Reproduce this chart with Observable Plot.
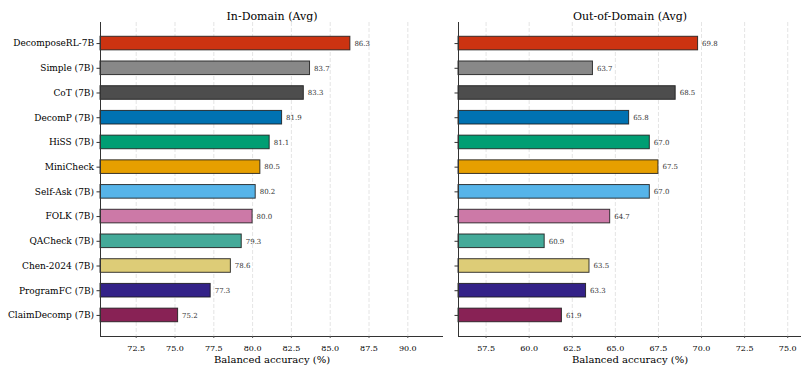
<!DOCTYPE html>
<html>
<head>
<meta charset="utf-8">
<script src="https://cdn.jsdelivr.net/npm/d3@7"></script>
<script src="https://cdn.jsdelivr.net/npm/@observablehq/plot@0.6"></script>
<style>
  html, body { margin: 0; padding: 0; background: #fff; }
  #chart { display: flex; flex-direction: row; width: 808px; height: 374px; }
  svg { display: block; }
</style>
</head>
<body>
<div id="chart"></div>
<script>
// Methods, top to bottom
const methods = [
  "DecomposeRL-7B", "Simple (7B)", "CoT (7B)", "DecomP (7B)", "HiSS (7B)", "MiniCheck",
  "Self-Ask (7B)", "FOLK (7B)", "QACheck (7B)", "Chen-2024 (7B)", "ProgramFC (7B)", "ClaimDecomp (7B)"
];
// Balanced accuracy (%)
const inDomain  = [86.3, 83.7, 83.3, 81.9, 81.1, 80.5, 80.2, 80.0, 79.3, 78.6, 77.3, 75.2];
const outDomain = [69.8, 63.7, 68.5, 65.8, 67.0, 67.5, 67.0, 64.7, 60.9, 63.5, 63.3, 61.9];
const colors = [
  "#cc3311", "#888888", "#4d4d4d", "#0072b2", "#009e73", "#e69f00",
  "#56b4e9", "#cc79a7", "#44aa99", "#ddcc77", "#332288", "#882255"
];
const inTicks  = [72.5, 75.0, 77.5, 80.0, 82.5, 85.0, 87.5, 90.0];
const outTicks = [57.5, 60.0, 62.5, 65.0, 67.5, 70.0, 72.5, 75.0];

const FONT = "'DejaVu Serif', serif";
const BAR_H = 0.55;
const Y_LO = -0.8525, Y_HI = 11.8525;

function panel({values, domain, ticks, title, showLabels, width, marginLeft, marginRight}) {
  const rows = methods.map((m, i) => ({m, i, v: values[i], c: colors[i]}));
  return Plot.plot({
    width, height: 374,
    marginTop: 22, marginBottom: 38, marginLeft, marginRight,
    style: {fontFamily: FONT, background: "#fff", color: "#000", overflow: "visible"},
    x: {domain, label: null},
    y: {domain: [Y_HI, Y_LO], label: null},
    color: {type: "identity"},
    marks: [
      Plot.ruleX(ticks, {stroke: "#dddddd", strokeWidth: 0.8, strokeDasharray: "4,2"}),
      Plot.rectX(rows, {
        x1: () => domain[0], x2: "v",
        y1: d => d.i - BAR_H / 2, y2: d => d.i + BAR_H / 2,
        fill: "c", stroke: "#1a1a1a", strokeWidth: 1, strokeOpacity: 0.85
      }),
      Plot.text(rows, {
        x: "v", y: "i", text: d => d.v.toFixed(1),
        dx: 4, textAnchor: "start", fontSize: 7, fill: "#333"
      }),
      Plot.ruleX([domain[0]], {stroke: "#333", strokeWidth: 1}),
      Plot.ruleY([Y_HI], {stroke: "#333", strokeWidth: 1}),
      Plot.axisY(d3.range(methods.length), {
        tickFormat: i => showLabels ? methods[i] : "",
        tickSize: 3.5, tickPadding: 3, fontSize: 9, label: null, stroke: "#333"
      }),
      Plot.axisX(ticks, {
        tickFormat: d3.format(".1f"), tickSize: 2, tickPadding: 7, fontSize: 8, label: null, stroke: "#555"
      }),
      Plot.text([title], {frameAnchor: "top", dy: -10, fontSize: 11, fill: "#000"}),
      Plot.text(["Balanced accuracy (%)"], {frameAnchor: "bottom", dy: 26, fontSize: 10, fill: "#000"})
    ]
  });
}

const chart = document.getElementById("chart");
chart.append(
  panel({values: inDomain, domain: [70.2, 92.3], ticks: inTicks, title: "In-Domain (Avg)",
         showLabels: true, width: 450, marginLeft: 100, marginRight: 7}),
  panel({values: outDomain, domain: [55.9, 75.8], ticks: outTicks, title: "Out-of-Domain (Avg)",
         showLabels: false, width: 358, marginLeft: 8, marginRight: 7})
);
</script>
</body>
</html>
